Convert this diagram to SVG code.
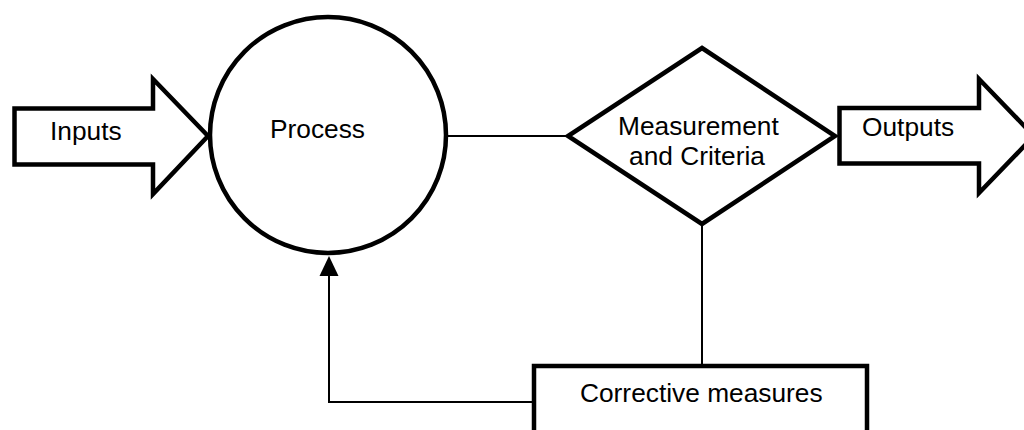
<svg xmlns="http://www.w3.org/2000/svg" width="1024" height="430" viewBox="0 0 1024 430">
<defs>
<style>
.shape{fill:#fff;stroke:#000;stroke-width:4.5;stroke-linejoin:miter}
.conn{fill:none;stroke:#000;stroke-width:2}
.head{fill:#000;stroke:none}
.lbl{font-family:"Liberation Sans",Arial,sans-serif;font-size:26.3px;fill:#000}
</style>
</defs>
<rect width="1024" height="430" fill="#fff"/>
<g id="connectors">
<line class="conn" x1="445" y1="136" x2="568" y2="136"/>
<line class="conn" x1="702" y1="224" x2="702" y2="366"/>
<polyline class="conn" points="534,402 329,402 329,276"/>
<path class="head" d="M329,256 L338.5,276 L319.5,276 Z"/>
</g>
<g id="inputs">
<path class="shape" d="M14.5,108.5 L153,108.5 L153,79 L208,136 L153,194 L153,164.5 L14.5,164.5 Z"/>
<text class="lbl" x="50" y="140">Inputs</text>
</g>
<g id="process">
<circle class="shape" cx="328" cy="135" r="118"/>
<text class="lbl" x="270" y="138">Process</text>
</g>
<g id="measurement">
<path class="shape" d="M702,48 L835,136 L702,224 L568,136 Z"/>
<text class="lbl" x="618" y="135">Measurement</text>
<text class="lbl" x="629" y="165">and Criteria</text>
</g>
<g id="outputs">
<path class="shape" d="M839.5,108 L979,108 L979,79 L1034,136 L979,193 L979,163.5 L839.5,163.5 Z"/>
<text class="lbl" x="862" y="136">Outputs</text>
</g>
<g id="corrective">
<rect class="shape" x="534" y="366" width="333" height="80"/>
<text class="lbl" x="580" y="402">Corrective measures</text>
</g>
</svg>
